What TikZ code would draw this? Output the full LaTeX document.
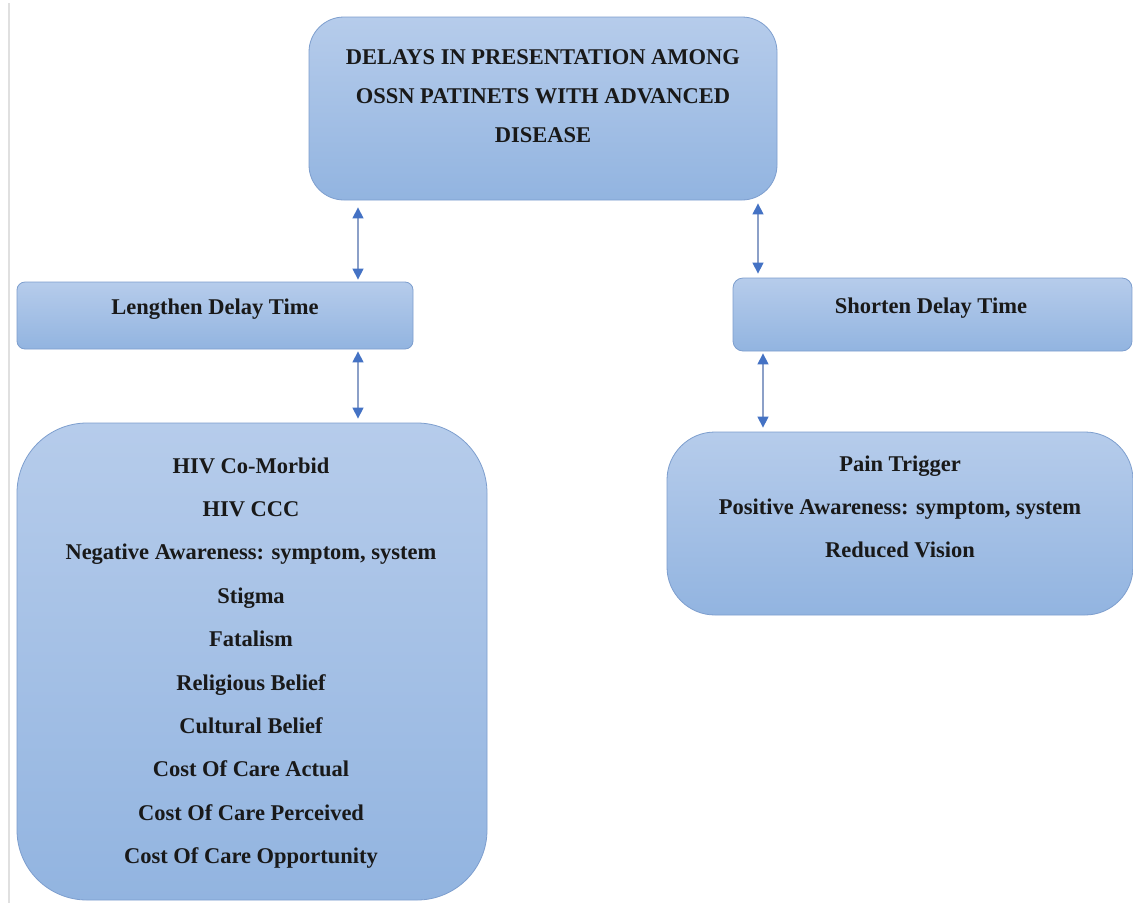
\documentclass[tikz,border=0pt]{standalone}
\usepackage{fontspec}
\setmainfont{Liberation Serif}
\usetikzlibrary{arrows.meta}
\definecolor{boxtop}{RGB}{182,204,235}
\definecolor{boxbot}{RGB}{146,180,224}
\definecolor{boxline}{RGB}{125,158,206}
\definecolor{tipblue}{RGB}{68,114,196}
\definecolor{shaft}{RGB}{140,160,200}
\tikzset{
  box/.style={draw=boxline, line width=0.8pt, top color=boxtop, bottom color=boxbot, inner sep=0pt},
  lbl/.style={font=\bfseries\fontsize{22.5}{39}\selectfont, align=center, text=black!90},
  biarrow/.style={draw=shaft, line width=1.3pt, {Triangle[color=tipblue,length=11pt,width=11pt]}-{Triangle[color=tipblue,length=11pt,width=11pt]}},
}
\begin{document}
\begin{tikzpicture}[x=1pt,y=-1pt]
\useasboundingbox (0,0) rectangle (1133,903);
\fill[white] (0,0) rectangle (1133,903);
\draw[black!12, line width=1.5pt] (9,3) -- (9,903);
% boxes
\node[box, rounded corners=35pt, minimum width=468pt, minimum height=183pt] (T) at (543,108.5) {};
\node[lbl] (Tt) at (543,96) {DELAYS IN PRESENTATION AMONG\\OSSN PATINETS WITH ADVANCED\\DISEASE};
\node[box, rounded corners=8pt, minimum width=396pt, minimum height=67pt] (L) at (215,315.5) {};
\node[lbl] (Lt) at (215,309) {Lengthen Delay Time};
\node[box, rounded corners=10pt, minimum width=399pt, minimum height=73pt] (R) at (932.5,314.5) {};
\node[lbl] (Rt) at (931,308) {Shorten Delay Time};
\node[box, rounded corners=70pt, minimum width=470pt, minimum height=477pt] (LB) at (252,661.5) {};
\node[lbl, font=\bfseries\fontsize{22.5}{43.4}\selectfont] (LBt) at (251,663) {HIV Co-Morbid\\HIV CCC\\Negative Awareness: symptom, system\\Stigma\\Fatalism\\Religious Belief\\Cultural Belief\\Cost Of Care Actual\\Cost Of Care Perceived\\Cost Of Care Opportunity};
\node[box, rounded corners=48pt, minimum width=466pt, minimum height=183pt] (RB) at (900,523.5) {};
\node[lbl, font=\bfseries\fontsize{22.5}{43}\selectfont] (RBt) at (900,507) {Pain Trigger\\Positive Awareness: symptom, system\\Reduced Vision};
% arrows
\coordinate (xa) at (358,0);
\coordinate (xb) at (758,0);
\coordinate (xc) at (763,0);
\draw[biarrow, shorten <=7pt, shorten >=2pt] (T.south -| xa) -- (L.north -| xa);
\draw[biarrow, shorten <=2pt, shorten >=4pt] (L.south -| xa) -- (LB.north -| xa);
\draw[biarrow, shorten <=3pt, shorten >=4pt] (T.south -| xb) -- (R.north -| xb);
\draw[biarrow, shorten <=2pt, shorten >=4pt] (R.south -| xc) -- (RB.north -| xc);
\end{tikzpicture}
\end{document}
